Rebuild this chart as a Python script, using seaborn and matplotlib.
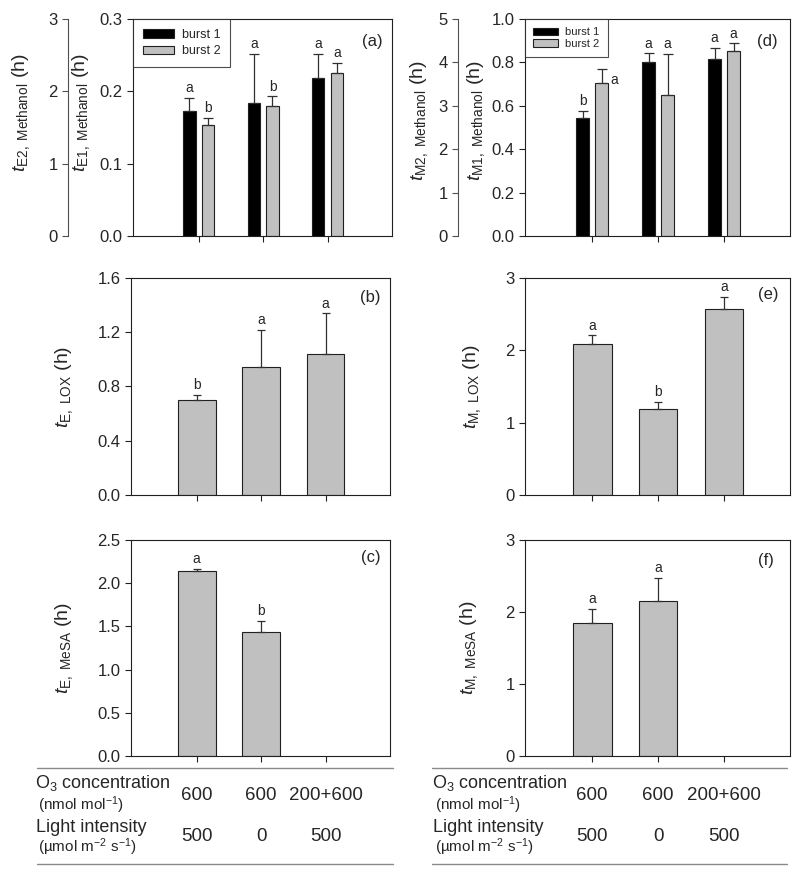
import numpy as np
import pandas as pd
import seaborn as sns
import matplotlib
matplotlib.use("Agg")
import matplotlib.pyplot as plt
from matplotlib.lines import Line2D
from matplotlib.transforms import blended_transform_factory

# treatments (O3 concentration / light intensity)
categories = ["600 / 500", "600 / 0", "200+600 / 500"]
o3_labels = ["600", "600", "200+600"]
light_labels = ["500", "0", "500"]
bursts = ["burst 1", "burst 2"]

# (a) methanol emission time, two bursts
tE1_burst1 = [0.173, 0.184, 0.219]
tE1_burst1_se = [0.018, 0.068, 0.033]
tE1_burst1_let = ["a", "a", "a"]
tE1_burst2 = [0.153, 0.180, 0.225]
tE1_burst2_se = [0.010, 0.013, 0.014]
tE1_burst2_let = ["b", "b", "a"]

# (d) methanol max time, two bursts
tM1_burst1 = [0.542, 0.802, 0.817]
tM1_burst1_se = [0.035, 0.040, 0.049]
tM1_burst1_let = ["b", "a", "a"]
tM1_burst2 = [0.706, 0.649, 0.852]
tM1_burst2_se = [0.065, 0.189, 0.036]
tM1_burst2_let = ["a", "a", "a"]

# (b) (e) LOX products
tE_LOX = [0.702, 0.943, 1.039]
tE_LOX_se = [0.036, 0.275, 0.300]
tE_LOX_let = ["b", "a", "a"]
tM_LOX = [2.086, 1.195, 2.571]
tM_LOX_se = [0.120, 0.097, 0.171]
tM_LOX_let = ["a", "b", "a"]

# (c) (f) MeSA, no value for the third treatment
tE_MeSA = [2.138, 1.438, np.nan]
tE_MeSA_se = [0.027, 0.124, np.nan]
tE_MeSA_let = ["a", "b", ""]
tM_MeSA = [1.846, 2.150, np.nan]
tM_MeSA_se = [0.194, 0.319, np.nan]
tM_MeSA_let = ["a", "a", ""]

# second (outer) y scales of panels a and d
tE2_range = [0, 3]
tM2_range = [0, 5]

GRAY = "#c0c0c0"
DARK = "#202020"

sns.set_style("ticks")
plt.rcParams["font.family"] = ["Liberation Sans", "DejaVu Sans"]
plt.rcParams["mathtext.fontset"] = "custom"
plt.rcParams["mathtext.rm"] = "Liberation Sans"
plt.rcParams["mathtext.it"] = "Liberation Sans:italic"
plt.rcParams["mathtext.bf"] = "Liberation Sans:bold"

fig = plt.figure(figsize=(8, 8.8), dpi=100)

W, H = 800, 880
def pos(left, top, width, height):
    return [left / W, 1 - (top + height) / H, width / W, height / H]

ax_a = fig.add_axes(pos(133, 19, 259, 217))
ax_b = fig.add_axes(pos(131, 278, 259, 217))
ax_c = fig.add_axes(pos(131, 540, 259, 216))
ax_d = fig.add_axes(pos(525, 19, 265, 217))
ax_e = fig.add_axes(pos(525, 278, 265, 217))
ax_f = fig.add_axes(pos(525, 540, 265, 216))


def add_errs(ax, container, errs, letters, capsize=3, special=None):
    for i, (bar, e, let) in enumerate(zip(container, errs, letters)):
        x = bar.get_x() + bar.get_width() / 2
        h = bar.get_height()
        ax.errorbar(x, h, yerr=[[0], [e]], fmt="none", ecolor="#303030",
                    elinewidth=0.9, capsize=capsize, capthick=0.9, zorder=3)
        if special is not None and i in special:
            ax.annotate(let, (x, h + e), xytext=special[i], textcoords="offset points",
                        ha="left", va="top", fontsize=10)
        else:
            ax.annotate(let, (x, h + e), xytext=(0, 2), textcoords="offset points",
                        ha="center", va="bottom", fontsize=10)


def style(ax, ylim, yticks, fmt, ylabel, label_x, label_y, panel, panel_x, panel_y):
    ax.set_xlim(-1.02, 3.0)
    ax.set_ylim(*ylim)
    ax.set_yticks(yticks)
    ax.set_yticklabels([fmt.format(t) for t in yticks])
    ax.set_xticks(range(len(categories)))
    ax.tick_params(axis="x", labelbottom=False, length=4, width=0.8, color=DARK)
    ax.tick_params(axis="y", labelsize=12, length=4, width=0.8, color=DARK)
    ax.set_xlabel("")
    ax.set_ylabel(ylabel, fontsize=14)
    ax.yaxis.set_label_coords(label_x, label_y)
    for s in ax.spines.values():
        s.set_linewidth(0.8)
        s.set_color(DARK)
    ax.text(panel_x, panel_y, panel, transform=ax.transAxes, ha="right",
            va="center", fontsize=12)


def single(ax, vals, errs, lets):
    df = pd.DataFrame({"cat": categories, "val": vals}).dropna()
    sns.barplot(data=df, x="cat", y="val", order=categories, color=GRAY,
                width=0.585, edgecolor=DARK, linewidth=0.8, errorbar=None,
                saturation=1, ax=ax)
    ok = [i for i, v in enumerate(vals) if not np.isnan(v)]
    add_errs(ax, ax.containers[0], [errs[i] for i in ok], [lets[i] for i in ok])


def grouped(ax, v1, e1, l1, v2, e2, l2, legend_fs, hl, bp, ls, special=None):
    df = pd.DataFrame({"cat": categories * 2,
                       "burst": [bursts[0]] * 3 + [bursts[1]] * 3,
                       "val": v1 + v2})
    sns.barplot(data=df, x="cat", y="val", hue="burst", order=categories,
                hue_order=bursts, palette=["black", GRAY], width=0.58, gap=0.33,
                edgecolor=DARK, linewidth=0.8, errorbar=None, saturation=1, ax=ax)
    add_errs(ax, ax.containers[0], e1, l1, capsize=3.5)
    add_errs(ax, ax.containers[1], e2, l2, capsize=3.5, special=special)
    handles, labels = ax.get_legend_handles_labels()
    leg = ax.legend(handles, labels, loc="upper left", bbox_to_anchor=(0, 1),
                    borderaxespad=0, frameon=True, fancybox=False, edgecolor=DARK,
                    fontsize=legend_fs, handlelength=hl, handleheight=0.65,
                    borderpad=bp, labelspacing=ls, handletextpad=0.6)
    leg.get_frame().set_linewidth(0.8)


def outer_axis(ax, yrange, ylabel, outward_px, label_x, label_y):
    ax2 = fig.add_axes(ax.get_position())
    ax2.patch.set_visible(False)
    for s in ["top", "right", "bottom"]:
        ax2.spines[s].set_visible(False)
    # outward offset is given in points
    ax2.spines["left"].set_position(("outward", outward_px * 72 / 100))
    ax2.spines["left"].set_linewidth(0.8)
    ax2.spines["left"].set_color("#505050")
    ax2.set_xticks([])
    ax2.set_ylim(*yrange)
    ax2.set_yticks(range(yrange[0], yrange[1] + 1))
    ax2.tick_params(axis="y", labelsize=12, length=4, width=0.8, color="#505050")
    ax2.set_ylabel(ylabel, fontsize=14)
    ax2.yaxis.set_label_coords(label_x, label_y)


# (a)
grouped(ax_a, tE1_burst1, tE1_burst1_se, tE1_burst1_let,
        tE1_burst2, tE1_burst2_se, tE1_burst2_let, 9, 2.5, 0.8, 0.35)
style(ax_a, (0, 0.3), [0, 0.1, 0.2, 0.3], "{:.1f}",
      r"$t_{\mathrm{E1,\ Methanol}}$ (h)", -0.16, 0.57, "(a)", 0.965, 0.895)
outer_axis(ax_a, tE2_range, r"$t_{\mathrm{E2,\ Methanol}}$ (h)", 65, -0.39, 0.57)

# (d)
grouped(ax_d, tM1_burst1, tM1_burst1_se, tM1_burst1_let,
        tM1_burst2, tM1_burst2_se, tM1_burst2_let, 8, 2.25, 0.75, 0.15,
        special={0: (6, -3)})
style(ax_d, (0, 1.0), [0, 0.2, 0.4, 0.6, 0.8, 1.0], "{:.1f}",
      r"$t_{\mathrm{M1,\ Methanol}}$ (h)", -0.143, 0.53, "(d)", 0.955, 0.895)
outer_axis(ax_d, tM2_range, r"$t_{\mathrm{M2,\ Methanol}}$ (h)", 67, -0.358, 0.53)

# (b)
single(ax_b, tE_LOX, tE_LOX_se, tE_LOX_let)
style(ax_b, (0, 1.6), [0, 0.4, 0.8, 1.2, 1.6], "{:.1f}",
      r"$t_{\mathrm{E,\ LOX}}$ (h)", -0.216, 0.5, "(b)", 0.965, 0.908)

# (e)
single(ax_e, tM_LOX, tM_LOX_se, tM_LOX_let)
style(ax_e, (0, 3), [0, 1, 2, 3], "{:.0f}",
      r"$t_{\mathrm{M,\ LOX}}$ (h)", -0.158, 0.5, "(e)", 0.955, 0.926)

# (c)
single(ax_c, tE_MeSA, tE_MeSA_se, tE_MeSA_let)
style(ax_c, (0, 2.5), [0, 0.5, 1.0, 1.5, 2.0, 2.5], "{:.1f}",
      r"$t_{\mathrm{E,\ MeSA}}$ (h)", -0.216, 0.5, "(c)", 0.965, 0.917)

# (f)
single(ax_f, tM_MeSA, tM_MeSA_se, tM_MeSA_let)
style(ax_f, (0, 3), [0, 1, 2, 3], "{:.0f}",
      r"$t_{\mathrm{M,\ MeSA}}$ (h)", -0.17, 0.5, "(f)", 0.94, 0.907)

# treatment table under the bottom row
for ax, x0, x1, tx in [(ax_c, 37, 393, 35), (ax_f, 432, 787, 432)]:
    for y in (768, 864):
        fig.add_artist(Line2D([x0 / W, x1 / W], [1 - y / H, 1 - y / H],
                              color="#8a8a8a", linewidth=1.0))
    fig.text(tx / W, 1 - 783 / H, r"O$_3$ concentration", fontsize=13, va="center")
    fig.text((tx + 3) / W, 1 - 805 / H, r"(nmol mol$^{-1}$)", fontsize=11, va="center")
    fig.text((tx + 1) / W, 1 - 827 / H, "Light intensity", fontsize=13, va="center")
    fig.text((tx + 3) / W, 1 - 847 / H, r"(µmol m$^{-2}$ s$^{-1}$)", fontsize=11, va="center")
    tr = blended_transform_factory(ax.transData, fig.transFigure)
    for i, (o3, li) in enumerate(zip(o3_labels, light_labels)):
        fig.text(i, 1 - 795 / H, o3, transform=tr, ha="center", va="center", fontsize=13.5)
        fig.text(i, 1 - 836 / H, li, transform=tr, ha="center", va="center", fontsize=13.5)

fig.savefig("out.png", dpi=100)
